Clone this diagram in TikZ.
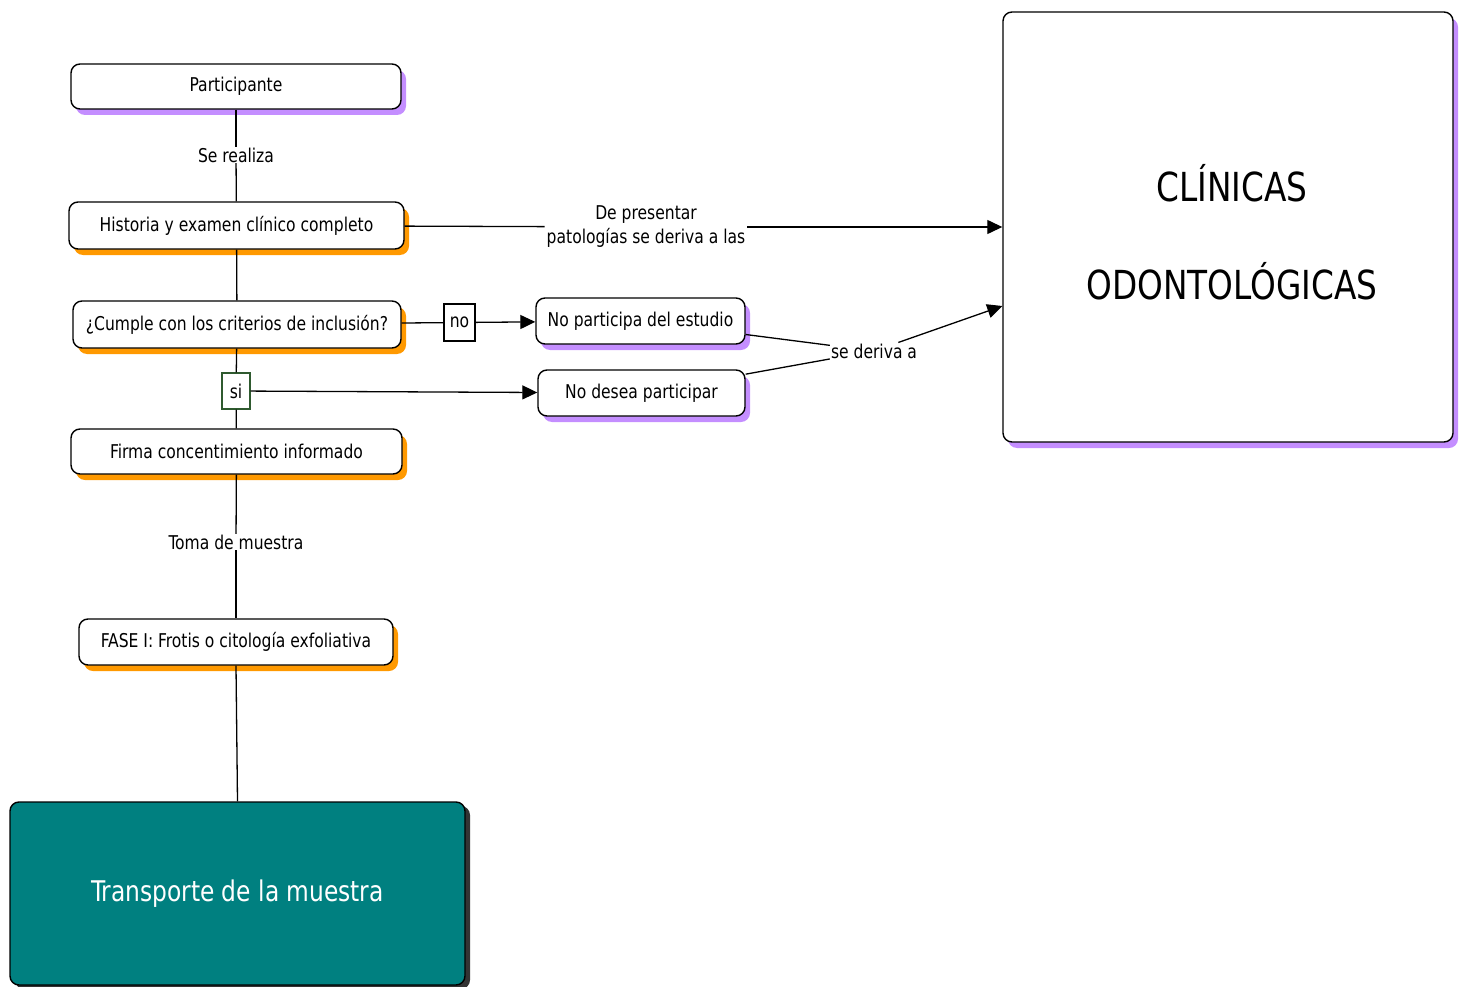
\documentclass[tikz,border=0pt]{standalone}
\usepackage{fontspec}
\setmainfont[FakeStretch=0.91]{DejaVu Sans Condensed}
\usetikzlibrary{arrows.meta,shadows}
\definecolor{shpurple}{HTML}{C48EFF}
\definecolor{shorange}{HTML}{FF9900}
\definecolor{boxteal}{HTML}{008080}
\definecolor{sigreen}{HTML}{2F5A2F}
\definecolor{shgray}{HTML}{333333}
\begin{document}
\begin{tikzpicture}[x=1pt,y=-1pt,
  box/.style={draw, line width=1.4pt, rounded corners=9pt, fill=white, inner sep=0pt, align=center, font=\fontsize{19}{22}\selectfont},
  pshadow/.style={drop shadow={shadow xshift=5pt,shadow yshift=-6pt,fill=shpurple,opacity=1}},
  oshadow/.style={drop shadow={shadow xshift=5pt,shadow yshift=-6pt,fill=shorange,opacity=1}},
  lab/.style={fill=white, inner sep=1pt, font=\fontsize{19}{24}\selectfont, align=center},
  conn/.style={line width=1.3pt},
  arr/.style={conn, -{Triangle[length=15pt,width=14pt]}},
  tag/.style={draw, line width=1.1pt, fill=white, inner sep=0pt, font=\fontsize{19}{22}\selectfont}
]
\useasboundingbox (0,0) rectangle (1459,987);

% nodes
\node[box, pshadow, minimum width=330pt, minimum height=45pt] (part) at (236,86.5) {Participante};
\node[box, oshadow, minimum width=335pt, minimum height=47pt] (hist) at (236.5,225.5) {Historia y examen clínico completo};
\node[box, oshadow, minimum width=328pt, minimum height=47pt] (cump) at (237,324.5) {¿Cumple con los criterios de inclusión?};
\node[box, oshadow, minimum width=331pt, minimum height=45pt] (firma) at (236.5,451.5) {Firma concentimiento informado};
\node[box, oshadow, minimum width=314pt, minimum height=46pt] (fase) at (236,642) {FASE I: Frotis o citología exfoliativa};
\node[box, fill=boxteal, text=white, font=\fontsize{28.5}{33}\selectfont,
      drop shadow={shadow xshift=5pt,shadow yshift=-4pt,fill=shgray,opacity=1},
      minimum width=455pt, minimum height=183pt] (trans) at (237.5,893.5) {Transporte de la muestra};
\node[box, pshadow, minimum width=450pt, minimum height=430pt] (clin) at (1228,227) {};
\node[align=center, font=\fontsize{40}{98}\selectfont] (clintxt) at (1232,232) {CLÍNICAS\\ODONTOLÓGICAS};
\node[box, pshadow, minimum width=209pt, minimum height=46pt] (np) at (640.5,321) {No participa del estudio};
\node[box, pshadow, minimum width=207pt, minimum height=46pt] (nd) at (641.5,393) {No desea participar};

% tags and labels
\node[tag, minimum width=31pt, minimum height=37pt] (no) at (459.5,322.5) {no};
\node[tag, draw=sigreen, minimum width=28pt, minimum height=36pt] (si) at (236,391) {si};
\node[lab, inner sep=0.5pt] (sr) at (236,155) {Se realiza};
\node[lab, inner sep=0.5pt] (tm) at (236,542) {Toma de muestra};
\node[lab, inner sep=2pt] (dp) at (646,227) {De presentar\\patologías se deriva a las};
\node[lab, inner sep=1pt] (sda) at (874,351) {se deriva a};

% connectors
\draw[conn] (part) -- (sr);
\draw[conn] (sr) -- (hist);
\draw[conn] (hist) -- (cump);
\draw[conn] (cump) -- (si);
\draw[conn] (si) -- (firma);
\draw[conn] (firma) -- (tm);
\draw[conn] (tm) -- (fase);
\draw[conn] (fase.south) -- (trans.north);
\draw[conn] (cump) -- (no);
\draw[arr] (no) -- (np);
\draw[arr] (si) -- (nd);
\draw[conn] (hist) -- (dp);
\draw[arr] (dp) -- (clin);
\draw[conn] (np) -- (sda);
\draw[conn] (nd) -- (sda);
\draw[arr] (sda) -- (clin);
\end{tikzpicture}
\end{document}
